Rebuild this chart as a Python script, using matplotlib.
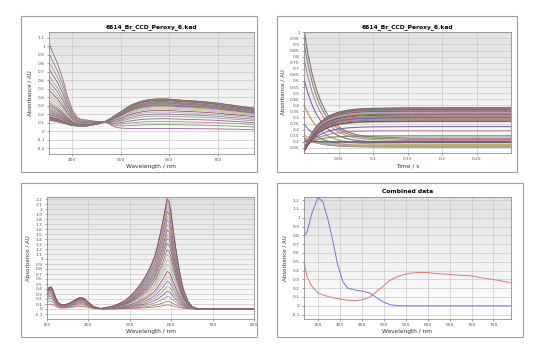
import matplotlib
matplotlib.use('Agg')
import matplotlib.pyplot as plt
import numpy as np
from matplotlib.patches import Rectangle
from matplotlib.ticker import FormatStrFormatter, FuncFormatter

# --- data ---
TITLE = '6614_Br_CCD_Peroxy_6.kad'

# kinetic spectra: wavelength grid, first and last spectrum
wl1 = [352, 360, 370, 380, 390, 400, 410, 420, 430, 440, 450, 460, 468, 480,
       490, 500, 510, 520, 530, 540, 550, 560, 570, 580, 590, 600, 610, 620,
       630, 640, 650, 660, 670, 680, 690, 700, 710, 720, 730, 740, 750, 760,
       770, 775]
spec_start = [1.03, 0.92, 0.79, 0.62, 0.41, 0.25, 0.16, 0.135, 0.13, 0.12, 0.115,
              0.11, 0.11, 0.07, 0.045, 0.035, 0.032, 0.03, 0.03, 0.03, 0.03, 0.03,
              0.03, 0.03, 0.03, 0.03, 0.03, 0.03, 0.03, 0.028, 0.028, 0.027, 0.027,
              0.026, 0.026, 0.025, 0.024, 0.023, 0.022, 0.021, 0.02, 0.018, 0.016,
              0.015]
spec_end = [0.13, 0.12, 0.11, 0.095, 0.08, 0.065, 0.06, 0.058, 0.06, 0.07, 0.08,
            0.095, 0.11, 0.15, 0.19, 0.225, 0.265, 0.30, 0.325, 0.345, 0.36, 0.37,
            0.375, 0.378, 0.378, 0.375, 0.37, 0.365, 0.36, 0.358, 0.355, 0.35,
            0.345, 0.34, 0.335, 0.328, 0.32, 0.31, 0.305, 0.295, 0.288, 0.28,
            0.272, 0.27]

# time points and remaining fraction of the starting species
times = [0.0, 0.003, 0.006, 0.009, 0.012, 0.015, 0.018, 0.021, 0.024, 0.027,
         0.030, 0.033, 0.036, 0.039, 0.042, 0.045, 0.048, 0.051, 0.054, 0.057,
         0.060, 0.063, 0.066, 0.069, 0.072, 0.075, 0.078, 0.081, 0.084, 0.087,
         0.090, 0.10, 0.15, 0.20, 0.25, 0.30]
remaining = [1.0, 0.87, 0.76, 0.67, 0.58, 0.51, 0.445, 0.39, 0.34, 0.30,
             0.26, 0.227, 0.198, 0.173, 0.151, 0.132, 0.115, 0.101, 0.088, 0.077,
             0.067, 0.059, 0.051, 0.045, 0.039, 0.034, 0.030, 0.026, 0.023, 0.020,
             0.017, 0.011, 0.001, 0.0, 0.0, 0.0]

# titration-like spectra (bottom left): largest spectrum and curve heights
wl3 = [300, 305, 310, 315, 320, 325, 330, 340, 350, 360, 370, 380, 390, 400,
       410, 420, 430, 440, 450, 460, 470, 480, 490, 500, 510, 520, 530, 540,
       550, 560, 565, 570, 575, 580, 585, 590, 595, 600, 605, 610, 615, 620,
       625, 630, 640, 650, 660, 670, 700, 750, 800]
spec_max = [0.38, 0.43, 0.44, 0.36, 0.24, 0.15, 0.10, 0.08, 0.10, 0.14, 0.19,
            0.23, 0.21, 0.13, 0.06, 0.02, 0.01, 0.02, 0.04, 0.06, 0.09, 0.13,
            0.18, 0.25, 0.33, 0.43, 0.55, 0.68, 0.85, 1.05, 1.20, 1.38, 1.56,
            1.76, 1.98, 2.20, 2.15, 1.90, 1.58, 1.28, 1.00, 0.76, 0.55, 0.38,
            0.16, 0.05, 0.015, 0.005, 0.0, 0.0, 0.0]
vis_heights = [0.08, 0.15, 0.25, 0.35, 0.45, 0.55, 0.65, 0.75, 0.88, 0.98,
               1.08, 1.18, 1.31, 1.41, 1.48, 1.58, 1.68, 1.78, 1.85, 1.95,
               2.01, 2.06, 2.11, 2.17, 2.21]
uv_heights = [0.10, 0.16, 0.21, 0.25, 0.28, 0.31, 0.33, 0.35, 0.36, 0.37,
              0.38, 0.39, 0.40, 0.40, 0.41, 0.41, 0.42, 0.42, 0.43, 0.43,
              0.43, 0.44, 0.44, 0.44, 0.44]

# combined data (bottom right)
wl4 = [318, 325, 336, 350, 361, 373, 384, 395, 407, 418, 438, 453, 468, 483,
       498, 514, 530, 543, 560, 580, 600, 620, 640, 660, 680, 700, 720, 740,
       760, 780, 790]
comb_blue = [0.79, 0.84, 1.05, 1.23, 1.18, 0.97, 0.73, 0.46, 0.27, 0.20, 0.175,
             0.165, 0.145, 0.095, 0.045, 0.012, 0.003, 0.0, 0.0, 0.0, 0.0, 0.0,
             0.0, 0.0, 0.0, 0.0, 0.0, 0.0, 0.0, 0.0, 0.0]
comb_red = [0.50, 0.33, 0.22, 0.145, 0.125, 0.105, 0.092, 0.08, 0.07, 0.063,
            0.06, 0.07, 0.10, 0.16, 0.22, 0.29, 0.33, 0.35, 0.37, 0.378, 0.378,
            0.365, 0.36, 0.352, 0.345, 0.34, 0.32, 0.305, 0.29, 0.27, 0.26]

PALETTE = ['#8e4585', '#5a8f3c', '#c07090', '#6b4f9e', '#a88c3c', '#4f6fa8',
           '#c78fb8', '#7a3a3a', '#9cbc7c', '#b7a0d8', '#d0a060', '#606060']

fig = plt.figure(figsize=(5.41, 3.58), dpi=100)
W, H = 541, 358


def fig_rect(x0, y0, x1, y1):
    # pixel box (top-left origin) -> figure fraction [left, bottom, w, h]
    return [x0 / W, 1 - y1 / H, (x1 - x0) / W, (y1 - y0) / H]


# outer panel frames
for box in [(21, 16, 257, 172), (277, 16, 517, 172),
            (21, 183, 257, 337), (277, 183, 523, 337)]:
    l, b, w, h = fig_rect(*box)
    fig.patches.append(Rectangle((l, b), w, h, transform=fig.transFigure,
                                 fill=False, edgecolor='#a0a0a0', lw=0.8))

grad = np.linspace(0, 1, 256).reshape(-1, 1)


def style(ax, xlim, ylim, xticks, yticks, xlabel, title=None, yfmt='%g'):
    ax.set_xlim(*xlim)
    ax.set_ylim(*ylim)
    ax.imshow(grad, extent=[0, 1, 0, 1], transform=ax.transAxes, aspect='auto',
              cmap=plt.matplotlib.colors.LinearSegmentedColormap.from_list(
                  'bg', ['#e2e2e2', '#ffffff']), zorder=0)
    ax.set_xticks(xticks)
    ax.set_yticks(yticks)
    ax.yaxis.set_major_formatter(FuncFormatter(lambda v, p: ('%g' % round(v, 3))))
    ax.xaxis.set_major_formatter(FuncFormatter(lambda v, p: ('%g' % round(v, 3))))
    ax.grid(True, color='#c8c8c8', lw=0.5)
    ax.set_axisbelow(True)
    ax.tick_params(labelsize=3.2, length=1.5, width=0.4, colors='#555555', pad=1.5)
    for s in ax.spines.values():
        s.set_color('#909090')
        s.set_linewidth(0.6)
    ax.set_xlabel(xlabel, fontsize=4.2, labelpad=1.5, color='#333333')
    ax.set_ylabel('Absorbance / AU', fontsize=4.0, labelpad=3, color='#333333')
    if title:
        ax.set_title(title, fontsize=4.3, fontweight='bold', pad=3)


wl1_a = np.array(wl1)
s0 = np.array(spec_start)
s1 = np.array(spec_end)
frac = np.array(remaining)

# top left: spectra at each time
ax1 = fig.add_axes(fig_rect(49, 32, 254, 154))
for i, f in enumerate(frac):
    ax1.plot(wl1_a, s1 + (s0 - s1) * f, color=PALETTE[i % len(PALETTE)],
             lw=0.6, alpha=0.85, zorder=2)
style(ax1, (352, 775), (-0.27, 1.165), [400, 500, 600, 700],
      np.arange(-0.2, 1.11, 0.1), 'Wavelength / nm', TITLE)

# top right: kinetic traces at each wavelength
ax2 = fig.add_axes(fig_rect(304, 32, 511, 153))
for j in range(len(wl1)):
    ax2.plot(times, s1[j] + (s0[j] - s1[j]) * frac, color=PALETTE[j % len(PALETTE)],
             lw=0.8, alpha=0.85, zorder=2)
style(ax2, (0, 0.3), (0.008, 1.002), [0.05, 0.1, 0.15, 0.2, 0.25],
      np.arange(0.05, 1.001, 0.05), 'Time / s', TITLE)

# bottom left: growing spectra
ax3 = fig.add_axes(fig_rect(47, 197, 254, 319))
wl3_a = np.array(wl3)
smax = np.array(spec_max)
for i, (uh, vh) in enumerate(zip(uv_heights, vis_heights)):
    y = np.where(wl3_a < 435, smax * uh / 0.44, smax * vh / 2.2)
    col = '#e05050' if i == 0 else PALETTE[i % len(PALETTE)]
    ax3.plot(wl3_a, y, color=col, lw=0.6, alpha=0.85, zorder=2)
style(ax3, (300, 800), (-0.2, 2.24), [300, 400, 500, 600, 700, 800],
      np.arange(-0.1, 2.21, 0.1), 'Wavelength / nm')

# bottom right: combined data
ax4 = fig.add_axes(fig_rect(304, 197, 511, 319))
ax4.plot(wl4, comb_blue, color='#7575e0', lw=0.7, zorder=2)
ax4.plot(wl4, comb_red, color='#e07878', lw=0.7, zorder=2)
style(ax4, (318, 790), (-0.15, 1.235), np.arange(350, 751, 50),
      np.arange(-0.1, 1.21, 0.1), 'Wavelength / nm', 'Combined data')

fig.savefig('out.png', dpi=100)
